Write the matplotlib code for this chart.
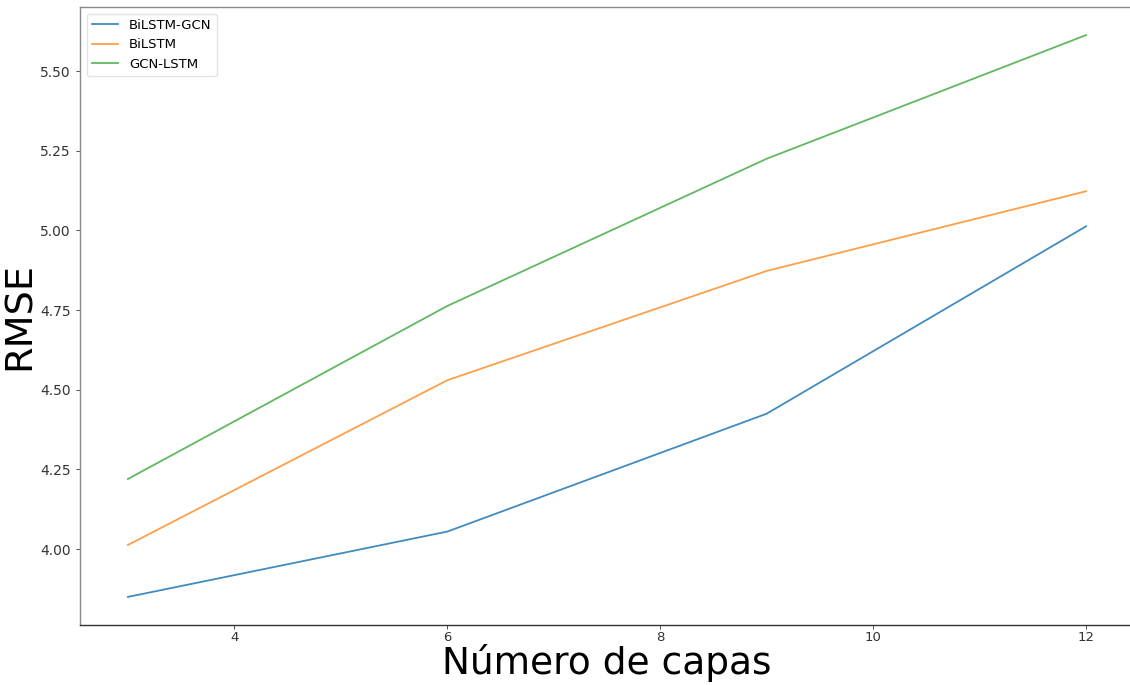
#!/usr/bin/env python3

import matplotlib.pyplot as plt

capas = [3, 6, 9, 12]
bilstm_gcn = [3.85, 4.055, 4.425, 5.013]
bilstm = [4.013, 4.53, 4.873, 5.123]
gcn_lstm = [4.22, 4.763, 5.225, 5.613]


def main():
    fig = plt.figure(figsize=(11.3, 6.85), dpi=100)
    # axes run slightly past the right edge of the canvas
    ax = fig.add_axes([80 / 1130, 60 / 685, 1054 / 1130, 618 / 685])

    ax.plot(capas, bilstm_gcn, color="#1f77b4", lw=1.3, alpha=0.85, label="BiLSTM-GCN")
    ax.plot(capas, bilstm, color="#ff7f0e", lw=1.3, alpha=0.75, label="BiLSTM")
    ax.plot(capas, gcn_lstm, color="#2ca02c", lw=1.3, alpha=0.75, label="GCN-LSTM")

    ax.set_yticks([4.00, 4.25, 4.50, 4.75, 5.00, 5.25, 5.50])
    ax.set_yticklabels(["4.00", "4.25", "4.50", "4.75", "5.00", "5.25", "5.50"])
    ax.set_xticks([4, 6, 8, 10, 12])
    ax.tick_params(labelsize=10, colors="#333333", length=3, width=0.6)
    ax.tick_params(axis="x", labelsize=9.5, pad=1.5)

    ax.spines["left"].set_color("#8a8a8a")
    ax.spines["top"].set_color("#8a8a8a")
    ax.spines["bottom"].set_color("#333333")
    ax.spines["right"].set_color("#8a8a8a")
    for s in ax.spines.values():
        s.set_linewidth(1.0)

    ax.set_xlabel("Número de capas", fontsize=27)
    ax.xaxis.set_label_coords(0.5, -0.080, transform=ax.transAxes)
    ax.xaxis.label.set_va("baseline")
    ax.set_ylabel("RMSE", fontsize=27.5, labelpad=2)

    ax.legend(loc="upper left", fontsize=9.5, framealpha=0.8, edgecolor="#dddddd")

    fig.savefig("out.png", dpi=100)


if __name__ == "__main__":
    main()
